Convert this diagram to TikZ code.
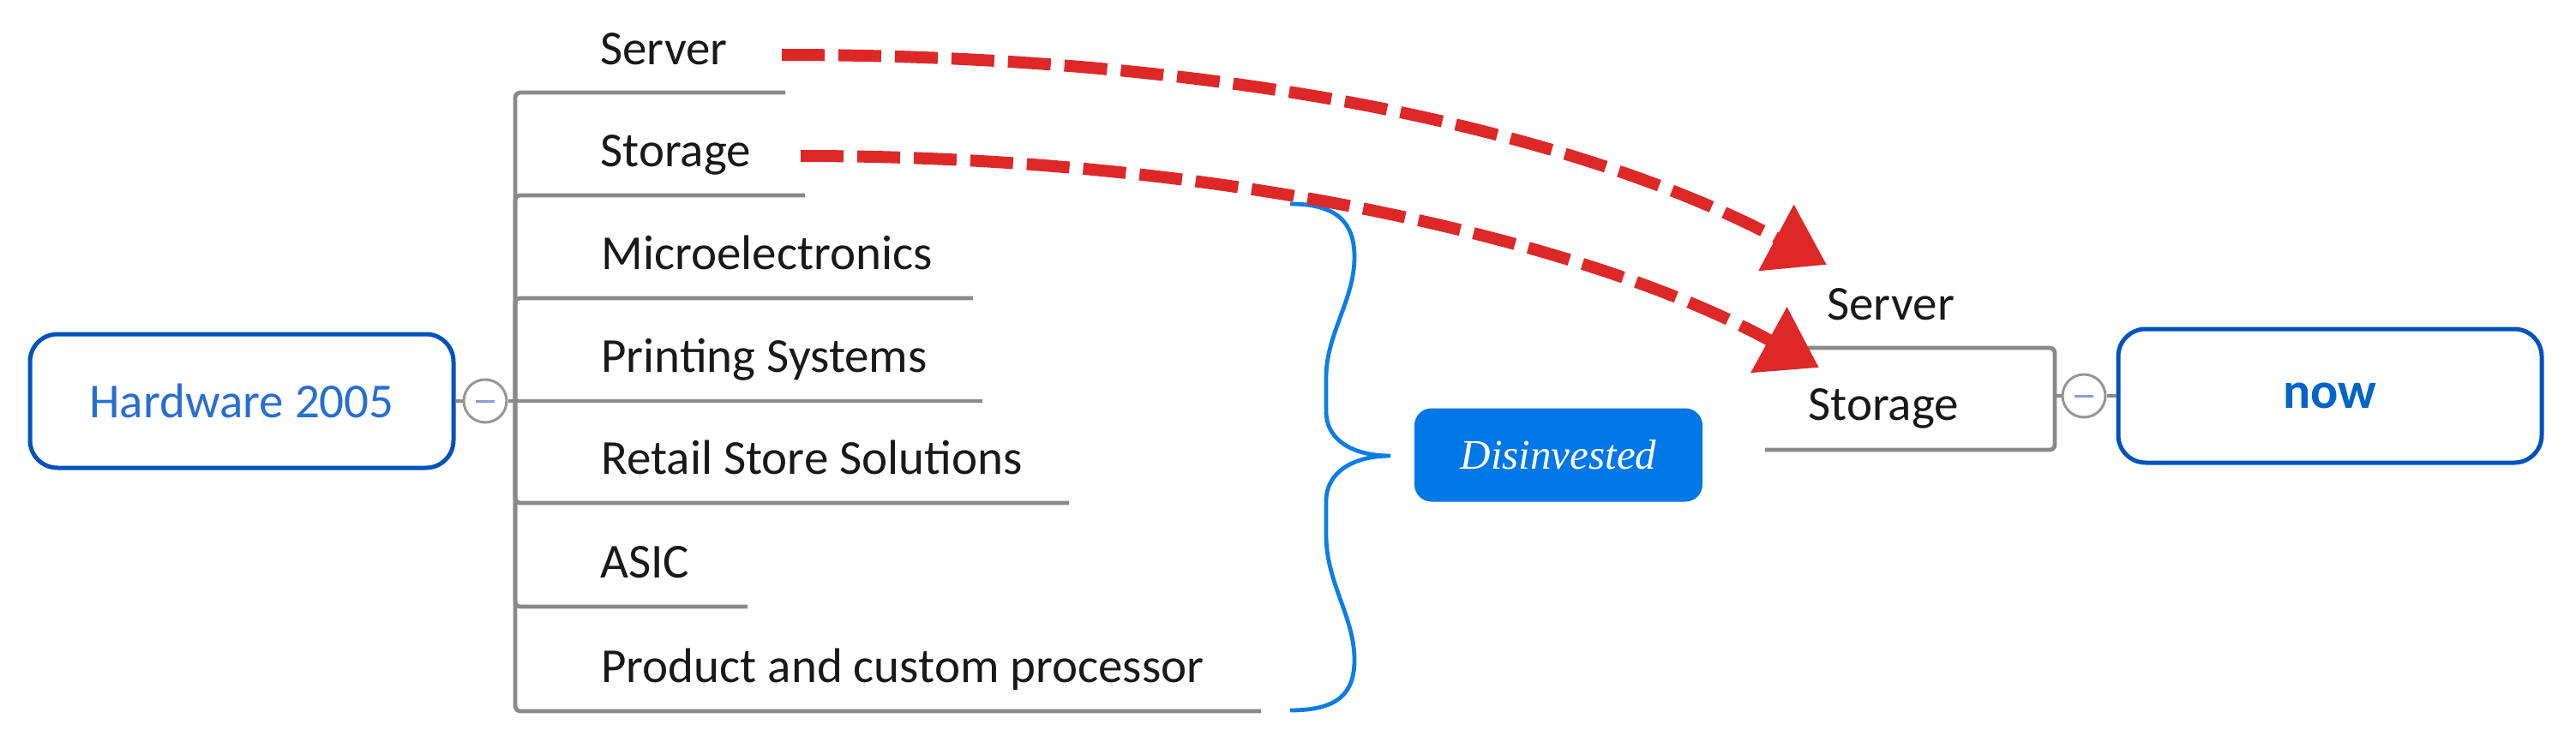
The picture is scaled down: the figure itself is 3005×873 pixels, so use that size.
\documentclass[tikz,border=0pt]{standalone}
\usepackage{fontspec}
\setmainfont{Carlito}
\newfontfamily\serifit{Liberation Serif}
\usetikzlibrary{arrows.meta}
\definecolor{boxblue}{RGB}{0,82,190}
\definecolor{hwtext}{RGB}{40,110,210}
\definecolor{nowtext}{RGB}{0,100,200}
\definecolor{linegray}{RGB}{137,137,137}
\definecolor{circgray}{RGB}{150,150,150}
\definecolor{minusblue}{RGB}{140,155,215}
\definecolor{arrowred}{RGB}{222,40,40}
\definecolor{bracebl}{RGB}{10,125,230}
\definecolor{disfill}{RGB}{0,119,230}
\definecolor{labeltext}{RGB}{25,25,25}
\begin{document}
\begin{tikzpicture}[x=0.5pt,y=-0.5pt,
  topic/.style={draw=boxblue,line width=2.5pt,rounded corners=16pt,
    minimum width=247pt,minimum height=78pt,inner sep=0pt},
  lbl/.style={anchor=base west,inner sep=0pt,text=labeltext,
    font=\fontsize{28.5}{34}\selectfont},
  branch/.style={draw=linegray,line width=2.4pt,rounded corners=3pt},
  collapse/.style={circle,draw=circgray,fill=white,line width=1.5pt,
    minimum size=25pt,inner sep=0pt},
  minus/.style={draw=minusblue,line width=1.5pt},
  redarrow/.style={draw=arrowred,line width=7pt,dash pattern=on 25pt off 8pt,
    -{Triangle[length=33.5pt,width=42pt]}},
  brace/.style={draw=bracebl,line width=2.4pt},
  disbox/.style={fill=disfill,rounded corners=10pt,minimum width=168pt,
    minimum height=54.5pt,inner sep=0pt,text=white,
    font=\serifit\itshape\fontsize{24.5}{28}\selectfont}
]
\useasboundingbox (0,0) rectangle (3005,873);

% left topic
\node[topic,text=hwtext,font=\fontsize{28.5}{34}\selectfont] (hw) at (282,468) {Hardware 2005};
\node[collapse] (c1) at (566,468) {};
\draw[minus] (555,468) -- (577,468);
\coordinate (spine) at (601,468);

% labels
\node[lbl] (l1) at (700,75) {Server};
\node[lbl] (l2) at (700,194) {Storage};
\node[lbl] (l3) at (701,314) {Microelectronics};
\node[lbl] (l4) at (701,434) {Printing Systems};
\node[lbl] (l5) at (701,553) {Retail Store Solutions};
\node[lbl] (l6) at (700,674) {ASIC};
\node[lbl] (l7) at (701,796) {Product and custom processor};

\coordinate (e1) at (916,108);
\coordinate (e2) at (939,228);
\coordinate (e3) at (1135,348);
\coordinate (e4) at (1146,468);
\coordinate (e5) at (1247,587);
\coordinate (e6) at (872,708);
\coordinate (e7) at (1471,830);

\draw[branch] (hw.east) -- (c1.west);
\draw[branch] (c1.east) -- (spine);
\draw[branch] (spine) |- (e1);
\draw[branch] (spine) |- (e2);
\draw[branch] (spine) |- (e3);
\draw[branch] (spine) -- (e4);
\draw[branch] (spine) |- (e5);
\draw[branch] (spine) |- (e6);
\draw[branch] (spine) |- (e7);

% brace
\coordinate (bt) at (1505,238);
\coordinate (bb) at (1505,829);
\coordinate (btip) at (1622,532);
\draw[brace] (bt) .. controls (1560,238) and (1580,260) .. (1580,300)
  .. controls (1580,350) and (1547,390) .. (1547,440)
  -- (1547,480)
  .. controls (1547,515) and (1580,532) .. (btip)
  .. controls (1580,532) and (1547,550) .. (1547,585)
  -- (1547,625)
  .. controls (1547,680) and (1580,720) .. (1580,770)
  .. controls (1580,810) and (1560,829) .. (bb);

\node[disbox] (dis) at (1818,531) {Disinvested};

% right topic
\node[topic,text=nowtext,font=\bfseries\fontsize{30}{36}\selectfont] (now) at (2718,462) {now};
\node[collapse] (c2) at (2431,462) {};
\draw[minus] (2420,462) -- (2442,462);
\coordinate (rj) at (2397,462);
\node[lbl] (r1) at (2131,373) {Server};
\node[lbl] (r2) at (2109,490) {Storage};
\coordinate (re1) at (2070,406);
\coordinate (re2) at (2059,525);
\draw[branch] (rj) |- (re1);
\draw[branch] (rj) |- (re2);
\draw[branch] (rj) -- (c2.west);
\draw[branch] (c2.east) -- (now.west);

% red arrows
\coordinate (a1s) at (912,64);
\coordinate (a1e) at (2131,309);
\coordinate (a2s) at (934,182);
\coordinate (a2e) at (2122,429);
\draw[redarrow] (a1s) .. controls (1500,64) and (1880,175) .. (a1e);
\draw[redarrow] (a2s) .. controls (1450,182) and (1870,290) .. (a2e);
\end{tikzpicture}
\end{document}
